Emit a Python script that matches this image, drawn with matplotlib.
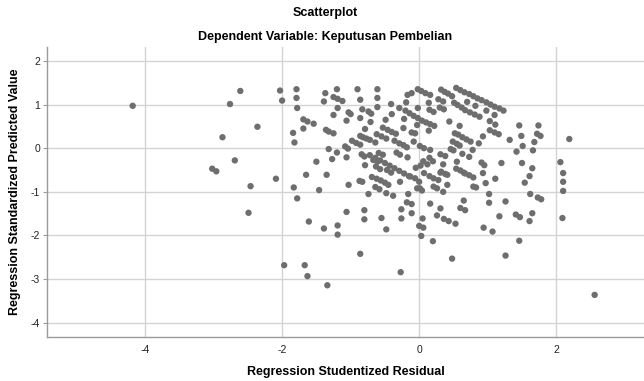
import matplotlib
matplotlib.use("Agg")
import matplotlib.pyplot as plt

plt.rcParams["font.family"] = ["Liberation Sans", "DejaVu Sans"]
plt.rcParams["axes.unicode_minus"] = False

# Studentized residual (x) and standardized predicted value (y)
resid = [
    -4.18, -3.02, -2.96, -2.87, -2.76, -2.69, -2.61, -2.49, -2.46, -2.36,
    -2.09, -2.03, -2.00, -1.97, -1.84, -1.82, -1.83, -1.78, -1.79, -1.79,
    -1.78, -1.69, -1.63, -1.54, -1.69, -1.67, -1.63, -1.65, -1.61, -1.50,
    -1.46, -1.39, -1.37, -1.39, -1.36, -1.32, -1.25, -1.35, -1.34, -1.32,
    -1.27, -1.25, -1.20, -1.25, -1.19, -1.12, -1.19, -1.20, -1.19, -1.19,
    -1.06, -1.03, -1.00, -1.08, -1.04, -1.06, -1.06, -1.03, -0.98, -0.92,
    -0.86, -0.90, -0.86, -0.86, -0.83, -0.74, -0.70, -0.86, -0.82, -0.77,
    -0.72, -0.79, -0.71, -0.84, -0.80, -0.79, -0.87, -0.83, -0.86, -0.80,
    -0.80, -0.74, -0.69, -0.62, -0.56, -0.50, -0.45, -0.64, -0.58, -0.67,
    -0.61, -0.64, -0.61, -0.61, -0.61, -0.62, -0.55, -0.48, -0.59, -0.53,
    -0.55, -0.53, -0.46, -0.40, -0.34, -0.49, -0.48, -0.38, -0.48,
    -0.72, -0.64, -0.57, -0.50, -0.43, -0.36, -0.29, -0.22, -0.15,
    -0.40, -0.41, -0.36, -0.29, -0.23, -0.18, -0.33, -0.28, -0.29, -0.28,
    -0.27, -0.26, -0.26, -0.23, -0.22, -0.19, -0.17, -0.11, -0.17, -0.16,
    -0.18, -0.11, -0.11, -0.11, -0.08, -0.06, -0.03,
    -0.02, 0.03, 0.09, 0.16, -0.02,
    -0.20, -0.14, -0.08, -0.02, 0.04, 0.10, 0.16, 0.22,
    -0.03, 0.04, 0.00, 0.06, 0.05, 0.03, 0.01, 0.07, 0.06, 0.12,
    0.15, 0.20, 0.14, 0.15, 0.21, 0.14, 0.16, 0.16, 0.20, 0.21,
    0.26, 0.26, 0.31, 0.28, 0.35, 0.30, 0.36, 0.32, 0.37, 0.42,
    0.48, 0.31, 0.38, 0.35, 0.32, 0.38, 0.35, 0.41, 0.41, 0.36,
    0.43, 0.53, 0.44, 0.46, 0.50, 0.48, 0.51, 0.56, 0.62, 0.49,
    0.55, 0.59, 0.52, 0.57, 0.63, 0.69, 0.75, 0.54, 0.60, 0.65,
    0.55, 0.59, 0.63, 0.73, 0.65, 0.60, 0.67, 0.67, 0.73, 0.79,
    0.70, 0.67, 0.74, 0.81, 0.88, 0.78, 0.79, 0.83, 0.82, 0.87,
    0.93, 0.91, 0.95, 0.93, 0.94, 0.97, 0.98, 1.02, 1.02, 1.03,
    1.11, 1.03, 1.10, 1.16, 1.07, 1.10, 1.11, 1.17, 1.20, 1.26,
    1.26, 1.32, 1.41, 1.47, 1.42, 1.46, 1.46, 1.49, 1.51, 1.50,
    1.54, 1.61, 1.62, 1.65, 1.65, 1.61, 1.66, 1.68, 1.72, 1.77,
    1.74, 1.73, 1.78, 2.06, 2.10, 2.10, 2.10, 2.09, 2.19, 2.56,
    0.54, 0.60, 0.66, 0.73, 0.79, 0.85, 0.91, 0.98, 1.04, 1.10,
    1.17, 1.23,
    -0.13, -0.06, 0.00, 0.01, 0.07, 0.15, 0.21, 0.28, 0.31,
    -0.63, -0.57, -0.47, -0.41, -0.05, 0.02,
]
pred = [
    0.97, -0.47, -0.53, 0.25, 1.01, -0.28, 1.31, -1.48, -0.87, 0.49,
    -0.70, 1.32, 1.09, -2.68, 0.35, 0.13, -0.90, -1.15, 1.35, 1.15,
    0.92, 0.66, 0.61, 0.56, 0.45, -2.68, -2.93, -0.61, -1.68, -0.31,
    -0.96, -1.84, 1.26, 1.07, 0.42, 0.38, 0.34, -0.61, -3.14, -0.02,
    -0.25, 0.76, 1.35, 1.17, 1.13, 1.08, 0.92, -0.10, -1.77, -1.98,
    0.63, 0.82, 0.78, 0.04, -0.01, -0.21, -1.46, -0.84, 0.17, 0.12,
    0.08, 1.35, 1.11, 0.69, 0.89, 0.84, 0.79, 0.28, 0.25, 0.22,
    0.19, 0.44, 0.60, -0.14, -0.19, -0.39, -0.75, -0.77, -2.42, -1.42,
    -1.63, -1.05, -0.66, -0.70, -0.74, -0.79, -0.84, -0.89, -0.94, -0.27,
    -0.31, 0.13, 1.35, 1.15, 0.94, 0.32, 0.27, 0.22, -0.11, -0.15,
    -1.60, 0.47, 0.42, 0.37, 0.33, 0.65, -1.03, -1.09, -1.86,
    -0.16, -0.22, -0.28, -0.34, -0.40, -0.46, -0.52, -0.58, -0.64,
    0.78, 1.01, 0.17, 0.11, 0.07, 0.02, -0.10, -0.15, 0.92, -0.77,
    -2.84, -1.40, -1.61, 0.46, 0.67, 1.05, 1.22, 1.26, -0.21, -1.05,
    -1.24, -1.28, -1.49, 0.36, 0.15, 0.34, 0.53,
    1.35, 1.31, 1.26, 1.22, 0.92,
    0.86, 0.80, 0.74, 0.69, 0.63, 0.59, 0.55, 0.51,
    -0.92, -0.97, -1.78, -1.82, -1.61, -2.01, 0.05, 0.00, -0.30, -0.37,
    -0.22, -0.30, 1.04, 0.88, 0.83, 0.40, -0.04, -1.27, -2.13, -0.88,
    -0.92, -1.54, -1.38, 1.12, 1.07, 0.93, 0.89, 1.34, 1.29, 1.25,
    1.19, -0.14, -0.18, -0.37, -0.54, -0.59, -1.00, -0.84, -0.61, -1.62,
    -1.67, -1.73, 0.61, -0.02, -0.05, -2.53, 1.04, 0.99, 0.93, 0.15,
    0.10, 0.06, 0.34, 0.31, 0.25, 0.20, 0.15, -0.47, -0.51, -0.56,
    -0.31, 0.51, -0.13, -0.20, -1.20, -1.37, -1.42, -0.58, -0.62, -0.67,
    1.06, 0.87, 0.82, 0.77, 0.72, -0.04, -0.88, -0.90, 0.97, 0.11,
    0.27, -0.33, -0.39, -0.57, -1.82, -0.80, 0.86, -1.05, -1.25, 0.62,
    0.54, 0.41, 0.36, 0.32, -1.91, 0.76, -0.70, -1.56, -0.34, -1.22,
    -2.46, 0.19, -1.52, -1.58, -0.08, -2.12, 0.52, 0.28, 0.05, -0.34,
    -0.79, -0.64, -1.05, -0.46, -1.49, -1.67, -0.05, 0.14, 0.33, 0.28,
    0.52, -1.13, -1.17, -0.32, -0.57, -0.77, -0.98, -1.60, 0.21, -3.36,
    1.38, 1.33, 1.28, 1.24, 1.19, 1.14, 1.10, 1.05, 1.00, 0.95,
    0.91, 0.86,
    -0.65, -0.69, -0.77, -0.92, -0.57, -0.64, -0.69, -0.73, -0.56,
    -0.42, -0.48, -0.50, -0.56, -0.45, -0.40,
]

x_ticks = [-4, -2, 0, 2]
y_ticks = [2, 1, 0, -1, -2, -3, -4]

fig = plt.figure(figsize=(6.44, 3.81), dpi=100)
ax = fig.add_axes([0.073, 0.116, 0.927, 0.761])

ax.scatter(resid, pred, s=21, color="#6e6e6e", edgecolors="none", zorder=3)

ax.set_xlim(-5.43, 3.28)
ax.set_ylim(-4.32, 2.32)
ax.set_xticks(x_ticks)
ax.set_yticks(y_ticks)
ax.grid(True, color="#d4d4d4", linewidth=1.0, zorder=0)

for side in ["top", "right"]:
    ax.spines[side].set_visible(False)
for side in ["left", "bottom"]:
    ax.spines[side].set_color("#9a9a9a")
    ax.spines[side].set_linewidth(1.0)

ax.tick_params(axis="x", length=0, pad=6, labelsize=7.5, colors="#222222")
ax.tick_params(axis="y", length=3, width=0.8, color="#9a9a9a", pad=2,
               labelsize=7.5, labelcolor="#222222")

ax.set_xlabel("Regression Studentized Residual", fontsize=9, fontweight="bold",
              labelpad=8)
ax.set_ylabel("Regression Standardized Predicted Value", fontsize=9,
              fontweight="bold")
ax.yaxis.set_label_coords(-0.043, 0.5)

fig.text(0.505, 0.965, "Scatterplot", ha="center", va="center",
         fontsize=9, fontweight="bold")
fig.text(0.505, 0.902, "Dependent Variable: Keputusan Pembelian", ha="center",
         va="center", fontsize=9, fontweight="bold")

fig.savefig("out.png", dpi=100)
